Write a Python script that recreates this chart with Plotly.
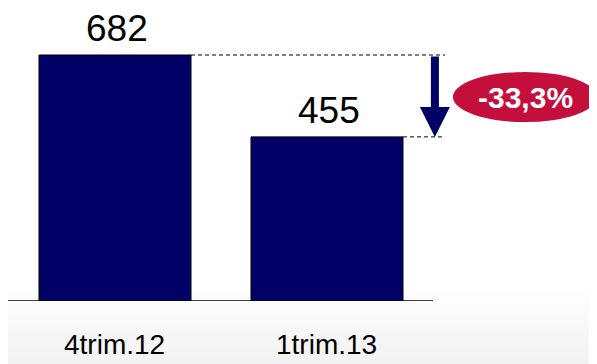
import plotly.graph_objects as go

categories = ["4trim.12", "1trim.13"]
values = [682, 455]

bar_color = "#000066"
badge_color = "#c40f3d"
font_family = "Liberation Sans, Arial"

change = (values[1] / values[0] - 1) * 100
change_label = f"{change:.1f}%".replace(".", ",")

fig = go.Figure()

fig.add_trace(go.Bar(
    x=categories, y=values,
    width=0.717,
    marker=dict(color=bar_color, line=dict(color="black", width=1)),
))

# value labels above the bars
for cat, v in zip(categories, values):
    fig.add_annotation(x=cat, y=v, xref="x", yref="y", text=str(v),
                       showarrow=False, yanchor="bottom", yshift=4, xshift=2,
                       font=dict(family=font_family, size=37, color="black"))

# category labels under the baseline
for cat in categories:
    fig.add_annotation(x=cat, y=-0.150, xref="x", yref="paper", text=cat,
                       showarrow=False, yanchor="middle", xshift=-1, borderpad=0,
                       font=dict(family=font_family, size=28, color="black"))

# very soft grey fade at the bottom of the slide
n_bands = 12
for i in range(n_bands):
    g = int(255 - (i + 1) * 1.0)
    fig.add_shape(type="rect", xref="paper", yref="paper",
                  x0=0, x1=1, y0=-0.22, y1=0.055 - i * 0.022,
                  fillcolor=f"rgb({g},{g},{g})", line_width=0, layer="below")

# baseline
fig.add_shape(type="line", xref="x", yref="y", x0=-0.5047, x1=1.5, y0=0, y1=0,
              line=dict(color="black", width=1.5))

# dashed guides from the bar tops
half = 0.717 / 2
for i, v in enumerate(values):
    fig.add_shape(type="line", x0=i + half, x1=1.557, y0=v, y1=v,
                  line=dict(color="black", width=1, dash="4px,3px"))

# arrow from first to second level
fig.add_annotation(x=1.509, y=values[1], ax=1.509, ay=values[0],
                   xref="x", yref="y", axref="x", ayref="y",
                   showarrow=True, arrowhead=2, arrowsize=0.75, arrowwidth=8,
                   arrowcolor=bar_color, text="")

# badge
fig.add_shape(type="circle", x0=1.594, x1=2.274, y0=496, y1=635,
              fillcolor=badge_color, line_width=0)
fig.add_annotation(x=1.934, y=565, xref="x", yref="y", showarrow=False,
                   text=f"<b>{change_label}</b>",
                   font=dict(family=font_family, size=30, color="white"))

fig.update_layout(
    width=589, height=356,
    margin=dict(l=0, r=0, t=0, b=63),
    paper_bgcolor="white", plot_bgcolor="rgba(0,0,0,0)",
    showlegend=False,
    xaxis=dict(range=[-0.5047, 2.2736], showgrid=False, zeroline=False,
               showline=False, ticks="", showticklabels=False),
    yaxis=dict(range=[0, 812.3], visible=False),
)

fig.write_html("out.html")
